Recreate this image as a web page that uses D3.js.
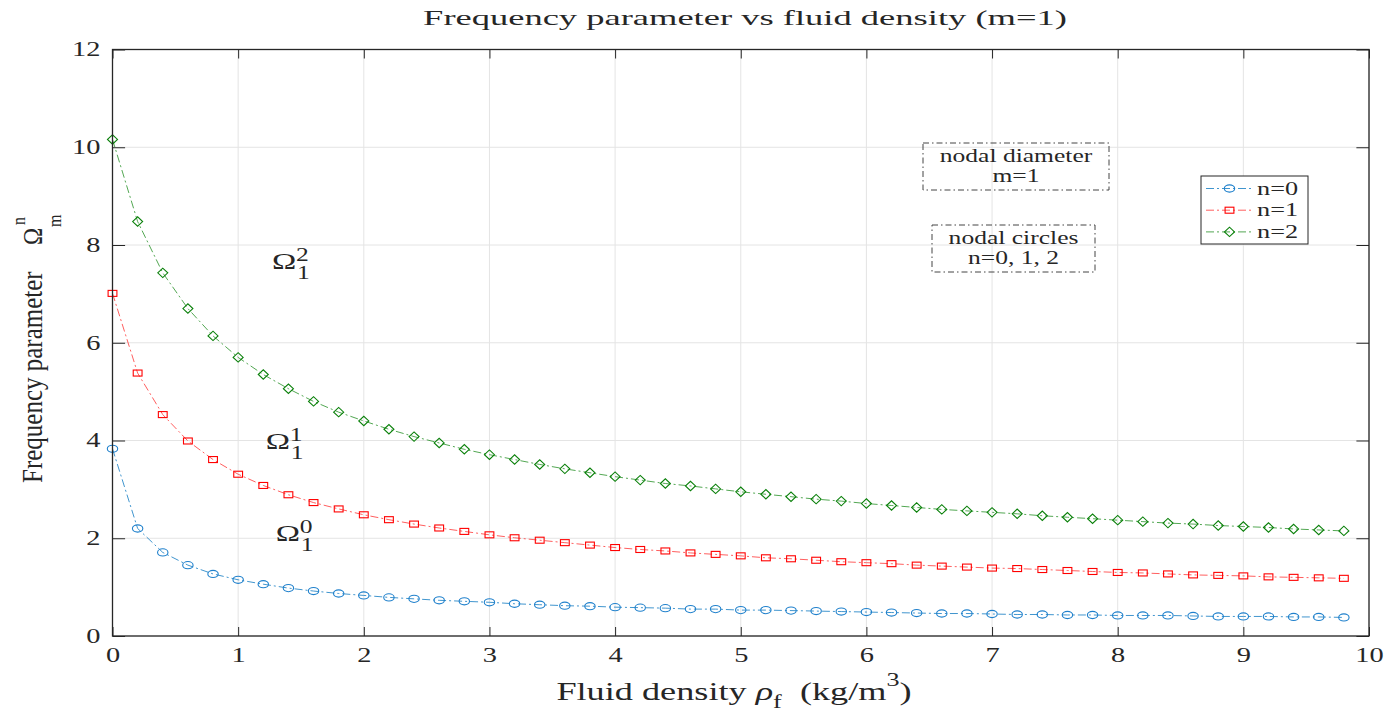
<!DOCTYPE html>
<html><head><meta charset="utf-8">
<script src="https://cdn.jsdelivr.net/npm/d3@7"></script>
<style>
body{margin:0;background:#fff;}
svg text{font-family:"Liberation Serif","Times New Roman",serif;fill:#262626;}
</style>
</head><body>
<svg id="chart" width="1390" height="712"></svg>
<script>
// ---- data ----
const densities = [0,0.2,0.4,0.6,0.8,1.0,1.2,1.4,1.6,1.8,2.0,2.2,2.4,2.6,2.8,3.0,3.2,3.4,3.6,3.8,4.0,4.2,4.4,4.6,4.8,5.0,5.2,5.4,5.6,5.8,6.0,6.2,6.4,6.6,6.8,7.0,7.2,7.4,7.6,7.8,8.0,8.2,8.4,8.6,8.8,9.0,9.2,9.4,9.6,9.8];
const omegaN0 = [3.83,2.20,1.71,1.45,1.27,1.15,1.06,0.98,0.92,0.87,0.83,0.79,0.76,0.73,0.71,0.69,0.66,0.64,0.62,0.61,0.59,0.58,0.57,0.55,0.55,0.53,0.53,0.52,0.51,0.50,0.49,0.48,0.47,0.46,0.46,0.45,0.44,0.44,0.43,0.43,0.42,0.42,0.42,0.41,0.40,0.40,0.40,0.39,0.39,0.38];
const omegaN1 = [7.01,5.38,4.53,3.99,3.61,3.31,3.08,2.89,2.73,2.60,2.48,2.38,2.29,2.21,2.14,2.07,2.01,1.96,1.91,1.86,1.81,1.77,1.74,1.70,1.67,1.64,1.60,1.58,1.55,1.52,1.50,1.48,1.45,1.43,1.41,1.39,1.38,1.36,1.34,1.32,1.30,1.29,1.27,1.25,1.24,1.23,1.21,1.20,1.19,1.18];
const omegaN2 = [10.16,8.48,7.43,6.70,6.14,5.70,5.35,5.06,4.80,4.58,4.40,4.23,4.08,3.95,3.82,3.71,3.61,3.51,3.42,3.34,3.26,3.19,3.12,3.07,3.01,2.95,2.90,2.85,2.80,2.76,2.71,2.67,2.63,2.59,2.56,2.53,2.50,2.46,2.43,2.40,2.37,2.34,2.31,2.29,2.26,2.24,2.22,2.19,2.17,2.15];
const seriesNames = ["n=0","n=1","n=2"];
const xTickValues = [0,1,2,3,4,5,6,7,8,9,10];
const yTickValues = [0,2,4,6,8,10,12];
const titleText = "Frequency parameter vs fluid density (m=1)";
const boxTexts = [["nodal diameter","m=1"],["nodal circles","n=0, 1, 2"]];

// ---- layout ----
const SX = 1.42; // horizontal stretch of the original picture
const svg = d3.select("#chart");
const L = 112.5, R = 1369, T = 49.5, B = 636;
const x = d3.scaleLinear().domain([0,10]).range([L,R]);
const y = d3.scaleLinear().domain([0,12]).range([B,T]);
const FONT = '"Liberation Serif","Times New Roman",serif';

const series = [
  {name:seriesNames[0], values:omegaN0, line:"#0072BD", mark:"#1f80cc", shape:"circle"},
  {name:seriesNames[1], values:omegaN1, line:"#ff2a2a", mark:"#ff0000", shape:"square"},
  {name:seriesNames[2], values:omegaN2, line:"#1a8a1a", mark:"#0a800a", shape:"diamond"}
];

function stext(parent, px, py, size, anchor, sx){
  return parent.append("text")
    .attr("transform",`translate(${px},${py}) scale(${sx||SX},1)`)
    .attr("font-size",size).attr("text-anchor",anchor||"start");
}

// grid
const grid = svg.append("g").attr("stroke","#e4e4e4").attr("stroke-width",1);
grid.selectAll("line.v").data(xTickValues).join("line").attr("class","v")
  .attr("x1",d=>x(d)).attr("x2",d=>x(d)).attr("y1",T).attr("y2",B);
grid.selectAll("line.h").data(yTickValues).join("line").attr("class","h")
  .attr("x1",L).attr("x2",R).attr("y1",d=>y(d)).attr("y2",d=>y(d));

// series
const lineGen = d3.line().x((d,i)=>x(densities[i])).y(d=>y(d));
function drawMarker(g, shape, cx, cy, color){
  if(shape==="circle"){
    g.append("ellipse").attr("cx",cx).attr("cy",cy).attr("rx",5.2).attr("ry",3.6)
      .attr("fill","none").attr("stroke",color).attr("stroke-width",1.1);
  } else if(shape==="square"){
    g.append("rect").attr("x",cx-4.4).attr("y",cy-3).attr("width",8.8).attr("height",6)
      .attr("fill","none").attr("stroke",color).attr("stroke-width",1.1);
  } else {
    g.append("path").attr("d",`M${cx-5},${cy}L${cx},${cy-4.7}L${cx+5},${cy}L${cx},${cy+4.7}Z`)
      .attr("fill","none").attr("stroke",color).attr("stroke-width",1.1);
  }
}
series.forEach(s=>{
  const g = svg.append("g");
  g.append("path").datum(s.values).attr("d",lineGen).attr("fill","none")
    .attr("stroke",s.line).attr("stroke-width",1).attr("stroke-opacity",0.75)
    .attr("stroke-dasharray","8,3,2,3");
  s.values.forEach((v,i)=>drawMarker(g, s.shape, x(densities[i]), y(v), s.mark));
});

// axes
function styleAxis(g){
  g.attr("font-family",FONT).attr("font-size",20);
  g.select(".domain").remove();
  g.selectAll(".tick line").attr("stroke","#262626").attr("stroke-width",1);
  g.selectAll(".tick text").attr("fill","#262626");
}
const gxb = svg.append("g").attr("transform",`translate(0,${B})`)
  .call(d3.axisBottom(x).tickValues(xTickValues).tickSize(-9).tickPadding(11.8).tickFormat(d3.format("d")));
styleAxis(gxb); gxb.selectAll(".tick text").attr("transform",`scale(${SX},1)`);
const gxt = svg.append("g").attr("transform",`translate(0,${T})`)
  .call(d3.axisTop(x).tickValues(xTickValues).tickSize(-9).tickFormat(""));
styleAxis(gxt);
const gyl = svg.append("g").attr("transform",`translate(${L},0)`)
  .call(d3.axisLeft(y).tickValues(yTickValues).tickSize(-12.6).tickPadding(8.5).tickFormat(d3.format("d")));
styleAxis(gyl); gyl.selectAll(".tick text").attr("transform",`scale(${SX},1)`);
const gyr = svg.append("g").attr("transform",`translate(${R},0)`)
  .call(d3.axisRight(y).tickValues(yTickValues).tickSize(-12.6).tickFormat(""));
styleAxis(gyr);
svg.append("rect").attr("x",L).attr("y",T).attr("width",R-L).attr("height",B-T)
  .attr("fill","none").attr("stroke","#262626").attr("stroke-width",1.3);

// title
stext(svg, 745, 25, 22, "middle", 1.66).text(titleText);

// x label
const xl = stext(svg, 734, 700, 25, "middle", 1.45);
xl.append("tspan").text("Fluid density ");
xl.append("tspan").attr("font-style","italic").text("ρ");
xl.append("tspan").attr("font-size",18).attr("dy",8).text("f");
xl.append("tspan").attr("dy",-8).text("\u00a0\u00a0(kg/m");
xl.append("tspan").attr("font-size",18).attr("dy",-14).text("3");
xl.append("tspan").attr("dy",14).text(")");

// y label (rotated)
const YS = 1.2;
const yg = svg.append("g").attr("transform",`translate(42,483) scale(${YS},1) rotate(-90)`);
yg.append("text").attr("x",0).attr("y",0).attr("font-size",25).text("Frequency parameter");
yg.append("text").attr("x",238).attr("y",0).attr("font-size",23).text("Ω");
yg.append("text").attr("x",258).attr("y",-14).attr("font-size",16).text("n");
yg.append("text").attr("x",256).attr("y",16).attr("font-size",16).text("m");

// Omega annotations (data coords)
const omegaLabels = [
  {sup:"2", sub:"1", dx:1.27, dy:7.50},
  {sup:"1", sub:"1", dx:1.22, dy:3.82},
  {sup:"0", sub:"1", dx:1.30, dy:1.94}
];
omegaLabels.forEach(o=>{
  const px = x(o.dx), py = y(o.dy);
  stext(svg, px, py, 23).text("Ω");
  stext(svg, px+24, py-8.5, 18).text(o.sup);
  stext(svg, px+25, py+9.5, 18).text(o.sub);
});

// annotation boxes
const boxes = [{x0:923,x1:1109,y0:143,y1:190},{x0:932,x1:1095,y0:225,y1:272}];
boxes.forEach((b,i)=>{
  svg.append("rect").attr("x",b.x0).attr("y",b.y0).attr("width",b.x1-b.x0).attr("height",b.y1-b.y0)
    .attr("fill","none").attr("stroke","#444").attr("stroke-width",1).attr("stroke-dasharray","6,3,1.5,3");
  const cx = (b.x0+b.x1)/2;
  stext(svg, cx, b.y0+19, 18, "middle").text(boxTexts[i][0]);
  stext(svg, cx, b.y0+39, 18, "middle").text(boxTexts[i][1]);
});

// legend
const lg = svg.append("g");
lg.append("rect").attr("x",1201).attr("y",176).attr("width",107).attr("height",68)
  .attr("fill","#fff").attr("stroke","#262626").attr("stroke-width",1);
series.forEach((s,i)=>{
  const ly = 188.5 + i*21.7;
  lg.append("line").attr("x1",1206).attr("x2",1253).attr("y1",ly).attr("y2",ly)
    .attr("stroke",s.line).attr("stroke-width",1).attr("stroke-opacity",0.75).attr("stroke-dasharray","8,3,2,3");
  drawMarker(lg, s.shape, 1229.5, ly, s.mark);
  stext(lg, 1257, ly+6, 18.5).text(s.name);
});
</script>
</body></html>
